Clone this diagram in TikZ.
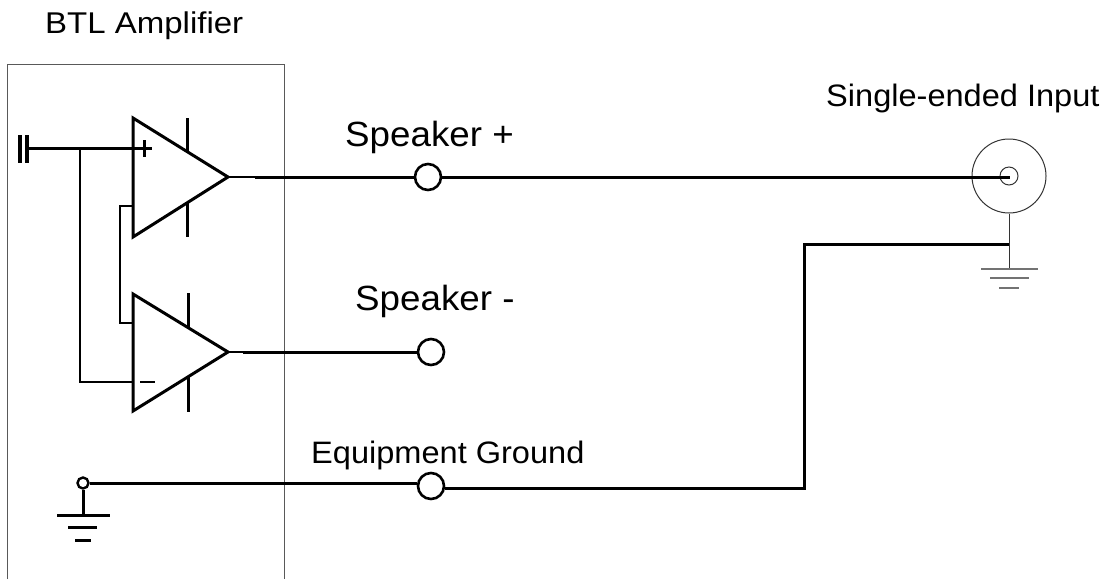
\documentclass[tikz,border=0pt]{standalone}
\usepackage{fontspec}
\setmainfont{Liberation Sans}
\begin{document}
\begin{tikzpicture}[x=1pt,y=-1pt,
  wire/.style={line width=3pt},
  midwire/.style={line width=2.6pt},
  thinwire/.style={line width=1.4pt},
  boxline/.style={line width=1pt, draw=black!65},
  coaxline/.style={line width=1pt, draw=black!80},
  gndbar/.style={line width=1.6pt, draw=black!55},
  term/.style={circle, draw, line width=2.6pt, minimum size=26pt, inner sep=0pt},
  lbl/.style={anchor=base west, inner sep=0pt}]
\useasboundingbox (0,0) rectangle (1113,579);

% amplifier box
\draw[boxline] (7.5,579) -- (7.5,64) -- (284,64) -- (284,579);

% labels
\node[lbl, xscale=1.1, font=\fontsize{30}{36}\selectfont] (tbtl) at (45,33) {BTL Amplifier};
\node[lbl, xscale=1.05, font=\fontsize{31}{37}\selectfont] (tsei) at (826,106) {Single-ended Input};
\node[lbl, xscale=1.05, font=\fontsize{35}{42}\selectfont] (tspp) at (345,146) {Speaker +};
\node[lbl, xscale=1.05, font=\fontsize{35}{42}\selectfont] (tspm) at (355,310) {Speaker -};
\node[lbl, xscale=1.05, font=\fontsize{31}{37}\selectfont] (teqg) at (311,463) {Equipment Ground};

% upper op-amp
\coordinate (u1) at (133,118);
\coordinate (u2) at (133,237);
\coordinate (uo) at (228,177);
\draw[wire, line join=miter] (u1) -- (uo) -- (u2) -- cycle;
\draw[wire] (187,118) -- (187,152);
\draw[wire] (187,203) -- (187,237);

% lower op-amp
\coordinate (l1) at (133,294);
\coordinate (l2) at (133,411);
\coordinate (lo) at (228,352);
\draw[wire, line join=miter] (l1) -- (lo) -- (l2) -- cycle;
\draw[wire] (188,293) -- (188,328);
\draw[wire] (188,377) -- (188,412);

% capacitor input
\draw[line width=3.5pt] (20,135) -- (20,163);
\draw[line width=3.5pt] (27,135) -- (27,163);
\coordinate (cin) at (28,148);
\coordinate (jn) at (80,148);
\coordinate (pin) at (152,148);
\draw[wire] (cin) -- (pin);
\draw[wire] (144,140) -- (144,157);
% inverting input loop
\coordinate (mj) at (80,382);
\coordinate (min) at (133,382);
\draw[midwire] (jn) -- (mj) -- (min);
\draw[midwire] (140,382) -- (155,382);
% feedback between op-amps
\draw[midwire] (133,206) -- (120,206) -- (120,323) -- (133,323);

% terminals
\node[term] (spp) at (428,177) {};
\node[term] (spm) at (431,352) {};
\node[term] (eqg) at (431,486) {};

% coax connector
\node[circle, coaxline, draw, minimum size=74pt, inner sep=0pt] (coaxo) at (1009,176) {};
\node[circle, coaxline, draw, minimum size=18pt, inner sep=0pt] (coaxi) at (1009,176) {};
\coordinate (coaxc) at (1010,177);

% outputs
\coordinate (uob) at (255,177);
\draw[thinwire] (uo) -- (uob);
\draw[wire] (uob) -- (spp);
\draw[wire] (spp) -- (coaxc);
\coordinate (lob) at (243,352);
\draw[thinwire] (lo) -- (lob);
\draw[wire] (lob) -- (spm);

% equipment ground
\node[circle, draw, line width=2.4pt, minimum size=11pt, inner sep=0pt] (gsm) at (83,483) {};
\draw[wire] (gsm.east) -- (gsm.east -| eqg.west);
\coordinate (gr1) at (804,488);
\coordinate (gr2) at (804,244);
\coordinate (cg) at (1009,244);
\draw[wire, line join=miter] (eqg.east |- gr1) -- (gr1) -- (gr2) -- (cg);
\coordinate (gb) at (83,515);
\draw[wire] (gsm.south) -- (gb);
\draw[wire] (57,515) -- (110,515);
\draw[wire] (68,527) -- (97,527);
\draw[wire] (75,540) -- (91,540);

% coax ground
\coordinate (cgb) at (1009,269);
\draw[coaxline] (coaxo.south) -- (cgb);
\draw[gndbar] (981,269) -- (1038,269);
\draw[gndbar] (990,278) -- (1029,278);
\draw[gndbar] (999,288) -- (1019,288);
\end{tikzpicture}
\end{document}
